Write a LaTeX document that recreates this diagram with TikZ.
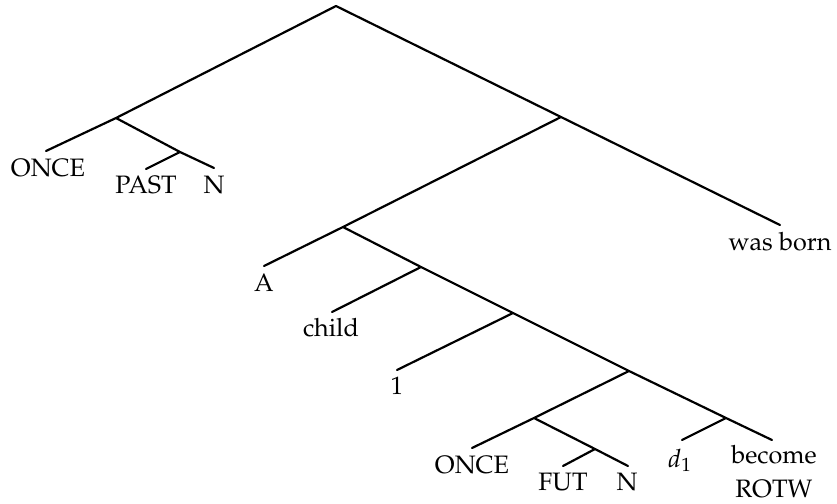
\documentclass[tikz,border=0pt]{standalone}
\usepackage[T1]{fontenc}
\usepackage{mathpazo}
\begin{document}
\begin{tikzpicture}[x=0.5pt,y=-0.5pt,
  branch/.style={line width=1.1pt, line cap=round, line join=round},
  leaf/.style={anchor=base, inner sep=0pt, font=\fontsize{12.6}{17}\selectfont}]
\useasboundingbox (0,0) rectangle (837,504);

% branching points
\coordinate (r) at (336,6);
\coordinate (a) at (116,118);
\coordinate (b) at (180,152);
\coordinate (c) at (561,117);
\coordinate (d) at (343,227);
\coordinate (e) at (421,267);
\coordinate (f) at (513,313);
\coordinate (g) at (629,371);
\coordinate (h) at (534,418);
\coordinate (i) at (595,449);
\coordinate (j) at (726,418);

% ends of the terminal branches
\coordinate (tOnceA) at (46,151);
\coordinate (tPast)  at (146,169);
\coordinate (tNA)    at (214,168);
\coordinate (tBorn)  at (780,225);
\coordinate (tA)     at (264,266);
\coordinate (tChild) at (332,312);
\coordinate (tOne)   at (397,370);
\coordinate (tOnceB) at (472,448);
\coordinate (tFut)   at (563,466);
\coordinate (tNB)    at (628,466);
\coordinate (tD)     at (682,440);
\coordinate (tBecome) at (772,440);

% branches
\draw[branch] (tOnceA) -- (a) -- (r) -- (c) -- (tBorn);
\draw[branch] (a) -- (b) -- (tNA);
\draw[branch] (b) -- (tPast);
\draw[branch] (c) -- (d) -- (tA);
\draw[branch] (d) -- (e) -- (f) -- (g) -- (j) -- (tBecome);
\draw[branch] (e) -- (tChild);
\draw[branch] (f) -- (tOne);
\draw[branch] (g) -- (h) -- (tOnceB);
\draw[branch] (h) -- (i) -- (tNB);
\draw[branch] (i) -- (tFut);
\draw[branch] (j) -- (tD);

% words
\node[leaf] (lOnceA) at (48,176) {ONCE};
\node[leaf] (lPast)  at (146,193) {PAST};
\node[leaf] (lNA)    at (214,193) {N};
\node[leaf] (lBorn)  at (780,250) {was born};
\node[leaf] (lA)     at (264,291) {A};
\node[leaf] (lChild) at (331,336) {child};
\node[leaf] (lOne)   at (397,394) {1};
\node[leaf] (lOnceB) at (472,473) {ONCE};
\node[leaf] (lFut)   at (563,490) {FUT};
\node[leaf] (lNB)    at (627,490) {N};
\node[leaf] (lD)     at (680,467) {$d_1$};
\node[leaf, align=center] (lBecome) at (774,497) {become\\ROTW};
\end{tikzpicture}
\end{document}
